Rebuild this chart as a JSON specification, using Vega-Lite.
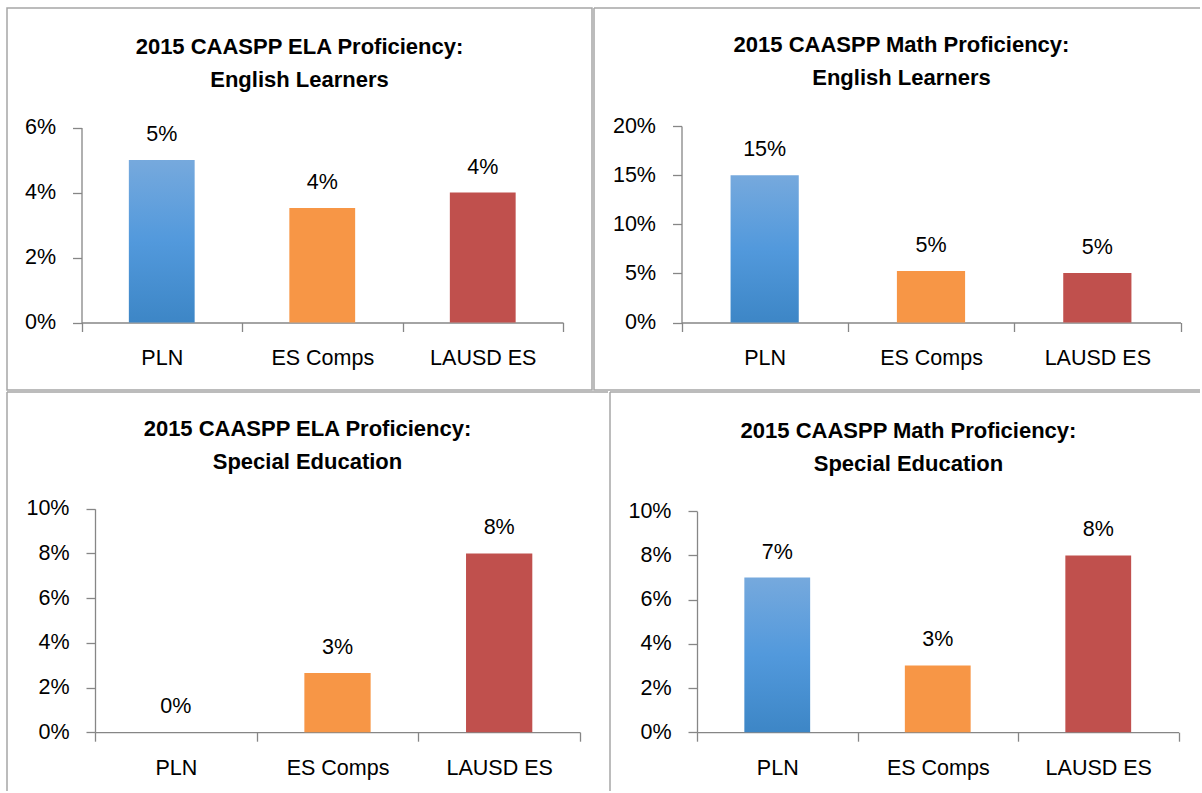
{
  "$schema": "https://vega.github.io/schema/vega-lite/v6.json",
  "padding": {"left": 6, "top": 7, "right": 0, "bottom": 0},
  "background": "white",
  "datasets": {
    "ela_el": [
      {"school": "PLN", "pct": 0.05},
      {"school": "ES Comps", "pct": 0.0352},
      {"school": "LAUSD ES", "pct": 0.04}
    ],
    "math_el": [
      {"school": "PLN", "pct": 0.15},
      {"school": "ES Comps", "pct": 0.0525},
      {"school": "LAUSD ES", "pct": 0.0505}
    ],
    "ela_sped": [
      {"school": "PLN", "pct": 0.0},
      {"school": "ES Comps", "pct": 0.0265},
      {"school": "LAUSD ES", "pct": 0.08}
    ],
    "math_sped": [
      {"school": "PLN", "pct": 0.07},
      {"school": "ES Comps", "pct": 0.0302},
      {"school": "LAUSD ES", "pct": 0.08}
    ]
  },
  "spacing": 0,
  "vconcat": [
    {
      "spacing": 0,
      "hconcat": [
        {
          "width": 585, "height": 382,
          "view": {"stroke": "#a6a6a6", "strokeWidth": 1.5},
          "title": {"text": ["2015 CAASPP ELA Proficiency:", "English Learners"], "offset": -84, "dx": 0},
          "data": {"name": "ela_el"},
          "encoding": {
            "x": {"field": "school", "type": "nominal", "sort": ["PLN", "ES Comps", "LAUSD ES"],
                  "scale": {"range": [74.5, 556], "paddingInner": 0, "paddingOuter": 0},
                  "axis": {"offset": -67.5, "tickBand": "extent", "labelAngle": 0, "labelPadding": 16}},
            "y": {"field": "pct", "type": "quantitative",
                  "scale": {"domain": [0, 0.06], "range": [314.5, 119.5], "nice": false},
                  "axis": {"offset": -74.5, "values": [0, 0.02, 0.04, 0.06], "format": ".0%"}}
          },
          "layer": [
            {"mark": {"type": "bar", "width": {"band": 0.41}},
             "encoding": {"fill": {"condition": {"test": "datum.school === 'PLN'", "value": {"gradient": "linear", "x1": 0, "y1": 0, "x2": 0, "y2": 1, "stops": [{"offset": 0, "color": "#76A9DD"}, {"offset": 0.5, "color": "#5299DC"}, {"offset": 1, "color": "#3D86C6"}]}},
                                  "field": "school", "type": "nominal", "legend": null,
                                  "scale": {"domain": ["PLN", "ES Comps", "LAUSD ES"], "range": ["#5299DC", "#F79646", "#C0504D"]}}}},
            {"mark": {"type": "text", "baseline": "alphabetic", "dy": -19},
             "encoding": {"text": {"field": "pct", "type": "quantitative", "format": ".0%"}}}
          ]
        },
        {
          "width": 606, "height": 382,
          "view": {"stroke": "#a6a6a6", "strokeWidth": 1.5, "strokeDash": [606, 382, 988, 0]},
          "title": {"text": ["2015 CAASPP Math Proficiency:", "English Learners"], "offset": -82, "dx": 4.5},
          "data": {"name": "math_el"},
          "encoding": {
            "x": {"field": "school", "type": "nominal", "sort": ["PLN", "ES Comps", "LAUSD ES"],
                  "scale": {"range": [87.5, 586.5], "paddingInner": 0, "paddingOuter": 0},
                  "axis": {"offset": -67.5, "tickBand": "extent", "labelAngle": 0, "labelPadding": 16}},
            "y": {"field": "pct", "type": "quantitative",
                  "scale": {"domain": [0, 0.2], "range": [314.5, 118], "nice": false},
                  "axis": {"offset": -87.5, "values": [0, 0.05, 0.1, 0.15, 0.2], "format": ".0%"}}
          },
          "layer": [
            {"mark": {"type": "bar", "width": {"band": 0.41}},
             "encoding": {"fill": {"condition": {"test": "datum.school === 'PLN'", "value": {"gradient": "linear", "x1": 0, "y1": 0, "x2": 0, "y2": 1, "stops": [{"offset": 0, "color": "#76A9DD"}, {"offset": 0.5, "color": "#5299DC"}, {"offset": 1, "color": "#3D86C6"}]}},
                                  "field": "school", "type": "nominal", "legend": null,
                                  "scale": {"domain": ["PLN", "ES Comps", "LAUSD ES"], "range": ["#5299DC", "#F79646", "#C0504D"]}}}},
            {"mark": {"type": "text", "baseline": "alphabetic", "dy": -19},
             "encoding": {"text": {"field": "pct", "type": "quantitative", "format": ".0%"}}}
          ]
        }
      ]
    },
    {
      "spacing": 0,
      "hconcat": [
        {
          "width": 601, "height": 399,
          "view": {"stroke": "#a6a6a6", "strokeWidth": 1.5, "strokeDash": [601, 1000, 399, 0]},
          "title": {"text": ["2015 CAASPP ELA Proficiency:", "Special Education"], "offset": -81.5, "dx": 0},
          "data": {"name": "ela_sped"},
          "encoding": {
            "x": {"field": "school", "type": "nominal", "sort": ["PLN", "ES Comps", "LAUSD ES"],
                  "scale": {"range": [88, 573], "paddingInner": 0, "paddingOuter": 0},
                  "axis": {"offset": -58.8, "tickBand": "extent", "labelAngle": 0, "labelPadding": 16}},
            "y": {"field": "pct", "type": "quantitative",
                  "scale": {"domain": [0, 0.1], "range": [340.2, 116.8], "nice": false},
                  "axis": {"offset": -88, "values": [0, 0.02, 0.04, 0.06, 0.08, 0.1], "format": ".0%"}}
          },
          "layer": [
            {"mark": {"type": "bar", "width": {"band": 0.41}},
             "encoding": {"fill": {"condition": {"test": "datum.school === 'PLN'", "value": {"gradient": "linear", "x1": 0, "y1": 0, "x2": 0, "y2": 1, "stops": [{"offset": 0, "color": "#76A9DD"}, {"offset": 0.5, "color": "#5299DC"}, {"offset": 1, "color": "#3D86C6"}]}},
                                  "field": "school", "type": "nominal", "legend": null,
                                  "scale": {"domain": ["PLN", "ES Comps", "LAUSD ES"], "range": ["#5299DC", "#F79646", "#C0504D"]}}}},
            {"mark": {"type": "text", "baseline": "alphabetic", "dy": -19},
             "encoding": {"text": {"field": "pct", "type": "quantitative", "format": ".0%"}}}
          ]
        },
        {
          "width": 590, "height": 399,
          "view": {"stroke": "#a6a6a6", "strokeWidth": 1.5, "strokeDash": [590, 989, 399, 0]},
          "title": {"text": ["2015 CAASPP Math Proficiency:", "Special Education"], "offset": -83.5, "dx": 3.5},
          "data": {"name": "math_sped"},
          "encoding": {
            "x": {"field": "school", "type": "nominal", "sort": ["PLN", "ES Comps", "LAUSD ES"],
                  "scale": {"range": [87, 568.5], "paddingInner": 0, "paddingOuter": 0},
                  "axis": {"offset": -58.8, "tickBand": "extent", "labelAngle": 0, "labelPadding": 16}},
            "y": {"field": "pct", "type": "quantitative",
                  "scale": {"domain": [0, 0.1], "range": [340.2, 119.2], "nice": false},
                  "axis": {"offset": -87, "values": [0, 0.02, 0.04, 0.06, 0.08, 0.1], "format": ".0%"}}
          },
          "layer": [
            {"mark": {"type": "bar", "width": {"band": 0.41}},
             "encoding": {"fill": {"condition": {"test": "datum.school === 'PLN'", "value": {"gradient": "linear", "x1": 0, "y1": 0, "x2": 0, "y2": 1, "stops": [{"offset": 0, "color": "#76A9DD"}, {"offset": 0.5, "color": "#5299DC"}, {"offset": 1, "color": "#3D86C6"}]}},
                                  "field": "school", "type": "nominal", "legend": null,
                                  "scale": {"domain": ["PLN", "ES Comps", "LAUSD ES"], "range": ["#5299DC", "#F79646", "#C0504D"]}}}},
            {"mark": {"type": "text", "baseline": "alphabetic", "dy": -19},
             "encoding": {"text": {"field": "pct", "type": "quantitative", "format": ".0%"}}}
          ]
        }
      ]
    }
  ],
  "resolve": {"scale": {"x": "independent", "y": "independent", "fill": "independent"}},
  "config": {
    "view": {"stroke": "#a6a6a6"},
    "title": {"font": "Liberation Sans", "fontSize": 22, "fontWeight": "bold", "color": "#000000", "lineHeight": 33, "anchor": "middle"},
    "axis": {"domainColor": "#868686", "domainWidth": 1.3, "tickColor": "#868686", "tickWidth": 1.3, "tickSize": 9,
             "labelFont": "Liberation Sans", "labelFontSize": 21.5, "labelColor": "#000000", "labelPadding": 17,
             "grid": false, "title": null},
    "text": {"font": "Liberation Sans", "fontSize": 21.5, "color": "#000000"}
  }
}
